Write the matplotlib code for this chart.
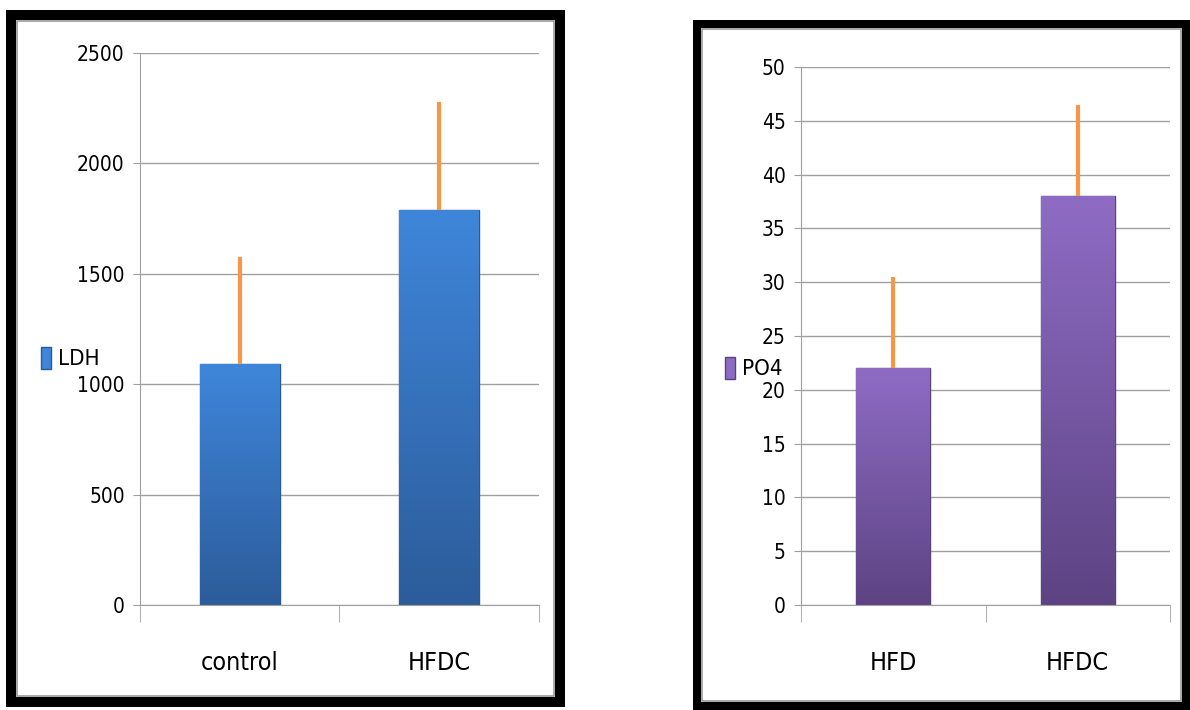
import numpy as np
import matplotlib.pyplot as plt
from matplotlib.patches import Rectangle
from matplotlib.colors import LinearSegmentedColormap

# data
ldh_groups = ['control', 'HFDC']
ldh_values = [1090, 1790]
ldh_err = [485, 490]

po4_groups = ['HFD', 'HFDC']
po4_values = [22, 38]
po4_err = [8.5, 8.5]

W, H = 1190, 710
plt.rcParams['font.family'] = ['DejaVu Sans']
plt.rcParams['font.stretch'] = 'condensed'

fig = plt.figure(figsize=(W / 100, H / 100), dpi=100)


def px(x0, y0, x1, y1):
    # pixel box (top-left origin) -> figure fraction rect
    return [x0 / W, 1 - y1 / H, (x1 - x0) / W, (y1 - y0) / H]


def frame(x0, y0, x1, y1, lw):
    r = Rectangle((x0 / W, 1 - y1 / H), (x1 - x0) / W, (y1 - y0) / H,
                  transform=fig.transFigure, fill=False, edgecolor='black',
                  linewidth=lw * 0.72, zorder=0)
    fig.patches.append(r)
    g = 0.5 * lw + 1
    r2 = Rectangle(((x0 + g) / W, 1 - (y1 - g) / H), (x1 - x0 - 2 * g) / W, (y1 - y0 - 2 * g) / H,
                   transform=fig.transFigure, fill=False, edgecolor='#9a9a9a',
                   linewidth=1.2, zorder=0)
    fig.patches.append(r2)


def gradient_bars(ax, bars, top, bottom):
    cmap = LinearSegmentedColormap.from_list('g', [top, bottom])
    grad = np.linspace(0, 1, 256).reshape(-1, 1)
    for b in bars:
        x, y = b.get_x(), b.get_y()
        w, h = b.get_width(), b.get_height()
        im = ax.imshow(grad, cmap=cmap, aspect='auto', extent=[x, x + w, y, y + h],
                       zorder=2, interpolation='bicubic')
        im.set_clip_path(b)
        b.set_facecolor('none')


def panel(rect, groups, values, err, ymax, step, top, bottom, edge, label, leg_xy):
    ax = fig.add_axes(rect)
    x = np.arange(len(groups))
    bars = ax.bar(x, values, width=0.4, color=bottom, edgecolor=edge, linewidth=1, zorder=2)
    ax.set_xlim(-0.5, len(groups) - 0.5)
    ax.set_ylim(0, ymax)
    gradient_bars(ax, bars, top, bottom)
    ax.errorbar(x, values, yerr=[np.zeros(len(err)), err], fmt='none',
                ecolor='#F79646', elinewidth=3, capsize=0, zorder=3)
    ax.set_yticks(np.arange(0, ymax + step / 2, step))
    ax.yaxis.grid(True, color='#a0a0a0', linewidth=1)
    ax.set_axisbelow(True)
    for s in ['top', 'right']:
        ax.spines[s].set_visible(False)
    for s in ['left', 'bottom']:
        ax.spines[s].set_color('#a0a0a0')
    ax.tick_params(axis='y', length=5, color='#a0a0a0', labelsize=15, pad=6)
    ax.set_xticks(x)
    ax.set_xticklabels(groups, fontsize=18)
    ax.tick_params(axis='x', length=0, pad=33)
    ax.set_xticks(np.arange(-0.5, len(groups)), minor=True)
    ax.tick_params(axis='x', which='minor', length=12, color='#a0a0a0')
    h = Rectangle((0, 0), 1, 1, facecolor=top, edgecolor=edge)
    ax.legend([h], [label], loc='center left', bbox_to_anchor=leg_xy,
              bbox_transform=fig.transFigure, frameon=False, fontsize=16,
              handlelength=0.45, handleheight=1.2, handletextpad=0.3, borderpad=0)
    return ax


frame(11, 15, 560, 702, 10)
frame(697, 24, 1186, 706, 8)

panel(px(140, 53, 539, 605), ldh_groups, ldh_values, ldh_err, 2500, 500,
      '#3F86DA', '#2C5C9A', '#2a5a95', 'LDH', (30 / W, 1 - 358 / H))
panel(px(801, 67, 1170, 605), po4_groups, po4_values, po4_err, 50, 5,
      '#8E6CC4', '#5D4383', '#5a4280', 'PO4', (714 / W, 1 - 368 / H))

fig.savefig('out.png', dpi=100)
